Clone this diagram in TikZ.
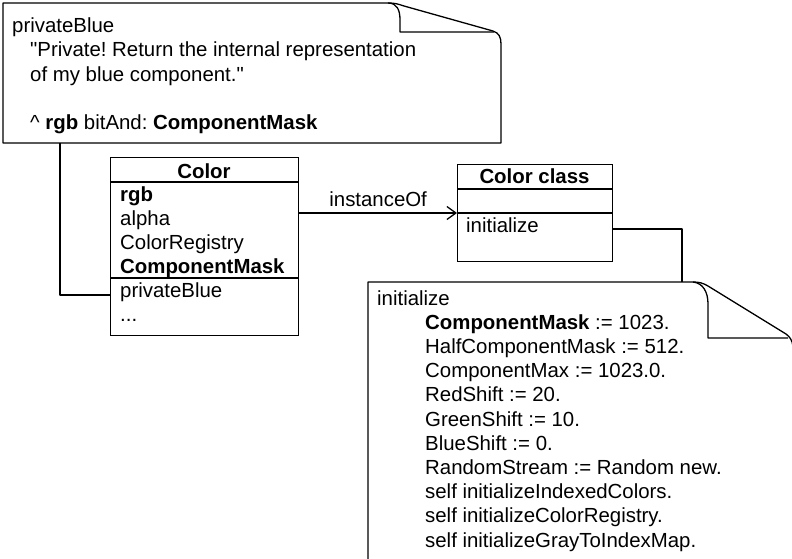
\documentclass[tikz,border=0pt]{standalone}
\usepackage{fontspec}
\setmainfont{Liberation Sans}
\usetikzlibrary{arrows.meta}
\newcommand{\sq}{\XeTeXglyph\XeTeXglyphindex "quotedbl"\relax}
\begin{document}
\frenchspacing
\begin{tikzpicture}[x=1pt,y=-1pt,
  every node/.style={font=\fontsize{20.4}{24.2}\selectfont},
  ln/.style={anchor=base west, inner sep=0pt},
  hd/.style={anchor=base, inner sep=0pt, font=\fontsize{20.4}{24.2}\selectfont\bfseries},
  edge/.style={line width=1.3pt, line join=round},
  box/.style={draw, line width=1.3pt, inner sep=0pt, anchor=north west, fill=white}]
\useasboundingbox (0,0) rectangle (792,558);
\clip (0,0) rectangle (792,558);

% ---- top note ----
\draw[edge, fill=white] (3,143) -- (3,3) -- (388,3) .. controls (395,3) and (398,4) .. (404,6)
  -- (493,31) .. controls (499,33) and (501,37) .. (501,44) -- (501,143) -- cycle;
\draw[edge] (388,3) .. controls (397,3) and (400,10) .. (400,20) -- (400,32) -- (494,32);
\coordinate (nb) at (60,143);
\node[ln] (t1) at (12,32) {privateBlue};
\node[ln] (t2) at (30,56.5) {\sq Private! Return the internal representation};
\node[ln] (t3) at (30,81) {of my blue component.\sq};
\node[ln] (t4) at (30,129.5) {\^{} \textbf{rgb} bitAnd: \textbf{ComponentMask}};

% ---- Color box ----
\node[box, minimum width=188, minimum height=178] (colorbox) at (110,157) {};
\draw[edge] (110,182) -- (298,182);
\draw[edge] (110,278) -- (298,278);
\node[hd] (ch) at (204,178) {Color};
\node[ln] (c1) at (120,201.5) {\textbf{rgb}};
\node[ln] (c2) at (120,225.5) {alpha};
\node[ln] (c3) at (120,249) {ColorRegistry};
\node[ln] (c4) at (120,273) {\textbf{ComponentMask}};
\node[ln] (c5) at (120,297) {privateBlue};
\node[ln] (c6) at (120,321) {...};

% ---- Color class box ----
\node[box, minimum width=155, minimum height=97] (ccbox) at (457,164) {};
\draw[edge] (457,189) -- (612,189);
\draw[edge] (457,213) -- (612,213);
\node[hd] (cch) at (534.5,183) {Color class};
\node[ln] (cc1) at (466,232) {initialize};

% ---- instanceOf arrow ----
\draw[edge, -{Straight Barb[length=9pt,width=13pt,line width=1.3pt]}] (colorbox.east |- 0,213) -- (ccbox.west |- 0,213)
  node[midway, above=6pt, inner sep=0pt] (lab) {instanceOf};

% ---- bottom note ----
\draw[edge, fill=white] (368,570) -- (368,282) -- (693,282) .. controls (699,282) and (703,283) .. (708,286)
  -- (786,334) .. controls (790,337) and (792,340) .. (793,346) -- (793,570) -- cycle;
\draw[edge] (693,282) .. controls (703,283) and (708,292) .. (708,304) -- (708,338) -- (788,338);
\coordinate (nt) at (682,282);
\node[ln] (b0) at (377,305) {initialize};
\node[ln] (b1) at (425,329.2) {\textbf{ComponentMask} := 1023.};
\node[ln] (b2) at (425,353.4) {HalfComponentMask := 512.};
\node[ln] (b3) at (425,377.6) {ComponentMax := 1023.0.};
\node[ln] (b4) at (425,401.8) {RedShift := 20.};
\node[ln] (b5) at (425,426) {GreenShift := 10.};
\node[ln] (b6) at (425,450.2) {BlueShift := 0.};
\node[ln] (b7) at (425,474.4) {RandomStream := Random new.};
\node[ln] (b8) at (425,498.6) {self initializeIndexedColors.};
\node[ln] (b9) at (425,522.8) {self initializeColorRegistry.};
\node[ln] (b10) at (425,547) {self initializeGrayToIndexMap.};

% ---- note connectors ----
\draw[edge] (nb) |- (colorbox.west |- 0,295);
\draw[edge] (ccbox.east |- 0,229) -| (nt);
\end{tikzpicture}
\end{document}
